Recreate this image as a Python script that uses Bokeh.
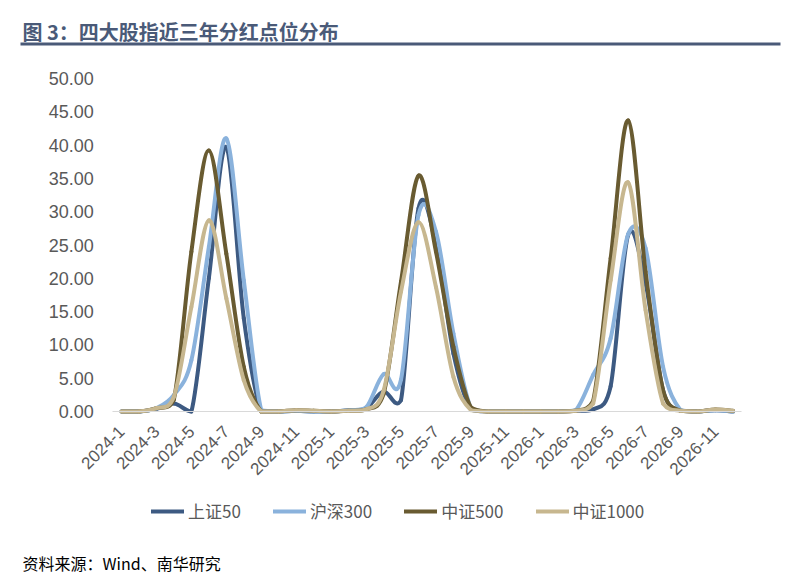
import math
from bokeh.plotting import figure
from bokeh.models import (Range1d, FixedTicker, Legend, LegendItem, Label,
                          BoxAnnotation, NumeralTickFormatter)
from bokeh.embed import file_html
from bokeh.resources import INLINE

# ---------------- data ----------------
months = ["2024-1", "2024-2", "2024-3", "2024-4", "2024-5", "2024-6",
          "2024-7", "2024-8", "2024-9", "2024-10", "2024-11", "2024-12",
          "2025-1", "2025-2", "2025-3", "2025-4", "2025-5", "2025-6",
          "2025-7", "2025-8", "2025-9", "2025-10", "2025-11", "2025-12",
          "2026-1", "2026-2", "2026-3", "2026-4", "2026-5", "2026-6",
          "2026-7", "2026-8", "2026-9", "2026-10", "2026-11", "2026-12"]

sz50 = [0, 0, 0.4, 1.2, 0, 20.0, 39.7, 14.0, 0, 0, 0.1, 0,
        0, 0.2, 0.5, 3.0, 1.7, 30.5, 25.0, 8.7, 0.3, 0, 0, 0,
        0, 0, 0.1, 0.3, 3.8, 26.5, 19.2, 3.2, 0.1, 0, 0.2, 0]
hs300 = [0, 0, 0.5, 2.5, 7.7, 24.7, 41.0, 19.7, 0.2, 0, 0.1, 0,
         0, 0.2, 0.6, 5.6, 4.8, 29.5, 27.0, 11.7, 0.5, 0, 0, 0,
         0, 0, 0.2, 5.5, 11.0, 26.6, 24.5, 6.7, 0.2, 0, 0.2, 0]
zz500 = [0, 0, 0.5, 1.8, 24.0, 39.2, 23.7, 6.7, 0, 0, 0.2, 0.1,
         0, 0.1, 0.3, 2.6, 19.5, 35.4, 24.0, 9.7, 0.6, 0, 0, 0,
         0, 0, 0.1, 1.6, 23.0, 43.7, 21.0, 3.2, 0.1, 0, 0.3, 0.1]
zz1000 = [0, 0, 0.5, 2.2, 15.7, 28.7, 17.0, 4.7, 0, 0, 0.2, 0.1,
          0, 0.1, 0.3, 3.1, 18.0, 28.4, 18.7, 5.2, 0.2, 0, 0, 0,
          0, 0, 0.1, 1.2, 19.7, 34.4, 15.2, 1.2, 0.1, 0, 0.3, 0.1]

series_names = ["上证50", "沪深300", "中证500", "中证1000"]
series_values = [sz50, hs300, zz500, zz1000]
series_colors = ["#3D5A82", "#8AB2DC", "#695B31", "#C7B78F"]

y_ticks = [0, 5, 10, 15, 20, 25, 30, 35, 40, 45, 50]

TITLE = "图 3：四大股指近三年分红点位分布"
SOURCE = "资料来源：Wind、南华研究"

CJK = "Noto Sans CJK SC"
LAT = "Liberation Sans"

# ---------------- canvas geometry (pixels) ----------------
W, H = 793, 577
X0_PX = 121.0          # pixel of first month
DX_PX = 17.47          # pixels per month
Y0_PX = 411.0          # pixel of value 0
DY_PX = 333.0 / 50.0   # pixels per unit

p = figure(width=W, height=H, output_backend="svg", toolbar_location=None,
           x_range=Range1d(-X0_PX / DX_PX, (W - X0_PX) / DX_PX),
           y_range=Range1d(-(H - Y0_PX) / DY_PX, Y0_PX / DY_PX),
           min_border=0, min_border_left=0, min_border_right=0,
           min_border_top=0, min_border_bottom=0)
p.outline_line_color = None
p.background_fill_color = "#FFFFFF"
p.border_fill_color = "#FFFFFF"
p.xgrid.visible = False
p.ygrid.visible = False


def smooth_segments(vals):
    """Bezier control points (Excel-like smoothing) for a series."""
    n = len(vals)
    xs = list(range(n))
    out = dict(x0=[], y0=[], x1=[], y1=[], cx0=[], cy0=[], cx1=[], cy1=[])
    for i in range(n - 1):
        im = max(i - 1, 0)
        ip = min(i + 2, n - 1)
        out["x0"].append(xs[i]); out["y0"].append(vals[i])
        out["x1"].append(xs[i + 1]); out["y1"].append(vals[i + 1])
        out["cx0"].append(xs[i] + (xs[i + 1] - xs[im]) / 6.0)
        out["cy0"].append(max(0.0, vals[i] + (vals[i + 1] - vals[im]) / 6.0))
        out["cx1"].append(xs[i + 1] - (xs[ip] - xs[i]) / 6.0)
        out["cy1"].append(max(0.0, vals[i + 1] - (vals[ip] - vals[i]) / 6.0))
    return out


# ---------------- axes (fixed at the data origin) ----------------
xa = p.xaxis[0]
xa.fixed_location = 0
xa.bounds = (-0.5, len(months) - 0.5)
xa.ticker = FixedTicker(ticks=list(range(0, len(months), 2)))
xa.major_label_overrides = {i: months[i] for i in range(0, len(months), 2)}
xa.major_label_orientation = math.pi / 4
xa.major_tick_line_color = None
xa.major_tick_out = 0
xa.major_tick_in = 0
xa.minor_tick_line_color = None
xa.axis_line_color = "#D9D9D9"
xa.axis_line_width = 1
xa.major_label_text_font = LAT
xa.major_label_text_font_size = "17px"
xa.major_label_text_color = "#595959"
xa.major_label_standoff = 17

ya = p.yaxis[0]
ya.fixed_location = -0.5
ya.bounds = (0, 50)
ya.ticker = FixedTicker(ticks=y_ticks)
ya.formatter = NumeralTickFormatter(format="0.00")
ya.axis_line_color = None
ya.major_tick_line_color = None
ya.major_tick_out = 0
ya.major_tick_in = 0
ya.minor_tick_line_color = None
ya.major_label_text_font = LAT
ya.major_label_text_font_size = "18px"
ya.major_label_text_color = "#595959"
ya.major_label_standoff = 19

items = []
for name, vals, col in zip(series_names, series_values, series_colors):
    seg = smooth_segments(vals)
    r = p.bezier(x0="x0", y0="y0", x1="x1", y1="y1", cx0="cx0", cy0="cy0",
                 cx1="cx1", cy1="cy1", source=seg, line_color=col,
                 line_width=4, line_cap="round", line_join="round")
    items.append(LegendItem(label=name, renderers=[r]))

# ---------------- legend ----------------
legend = Legend(items=items, orientation="horizontal", location=(151, H - 523),
                glyph_width=33, glyph_height=20, label_standoff=4, spacing=32,
                padding=0, margin=0, border_line_color=None,
                background_fill_alpha=0,
                label_text_font=CJK, label_text_font_size="17px",
                label_text_color="#595959")
p.add_layout(legend, "center")

# ---------------- title, rule, source ----------------
p.add_layout(Label(x=22, y=H - 31, x_units="screen", y_units="screen",
                   text=TITLE, text_font=CJK, text_font_size="20px",
                   text_font_style="bold", text_color="#4A5A78",
                   text_baseline="middle", text_align="left"))

p.add_layout(BoxAnnotation(left=20, right=780, top=H - 42, bottom=H - 45,
                           left_units="screen", right_units="screen",
                           top_units="screen", bottom_units="screen",
                           fill_color="#4A5A78", fill_alpha=1,
                           line_color=None))

p.add_layout(Label(x=22, y=H - 562, x_units="screen", y_units="screen",
                   text=SOURCE, text_font=CJK, text_font_size="16px",
                   text_color="#000000", text_baseline="middle",
                   text_align="left"))

open("out.html", "w").write(file_html(p, INLINE))
